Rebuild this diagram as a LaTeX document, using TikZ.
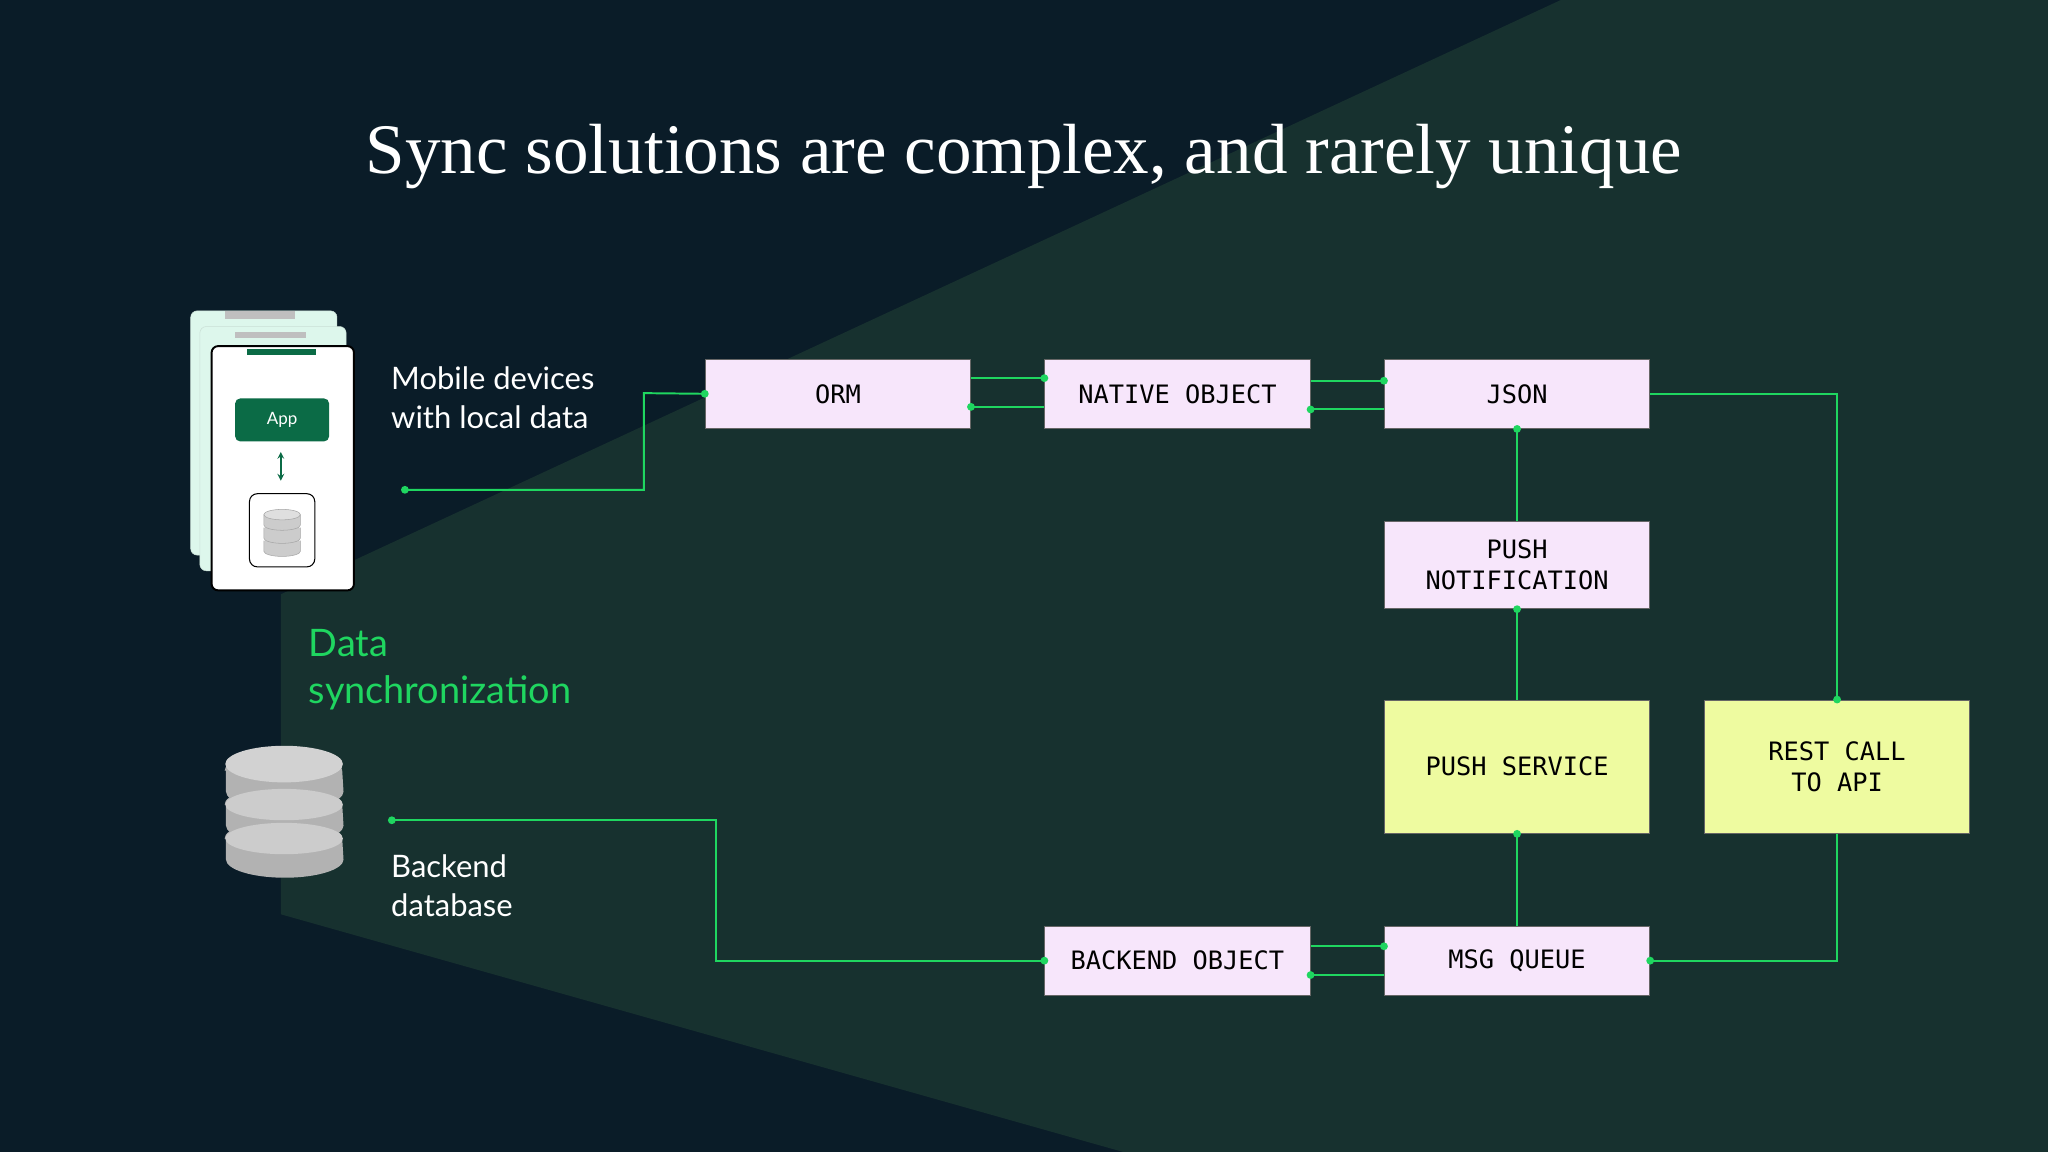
\documentclass[tikz,border=0pt]{standalone}
\usepackage{fontspec}
\setmainfont{Liberation Serif}
\newfontfamily\labelfont{Lato}
\newfontfamily\boxfont{DejaVu Sans Mono}
\usetikzlibrary{positioning,calc}
\definecolor{bgdark}{HTML}{0A1C28}
\definecolor{bglight}{HTML}{17312F}
\definecolor{syncgreen}{HTML}{1FD660}
\definecolor{boxpink}{HTML}{F7E6FB}
\definecolor{boxyellow}{HTML}{EEFBA0}
\definecolor{appgreen}{HTML}{0B6B46}
\definecolor{mint}{HTML}{DDF7EC}
\tikzset{
    stage/.style={draw=black!60, fill=boxpink, line width=0.8pt, minimum width=203pt,
        minimum height=53pt, font=\boxfont\fontsize{19.4}{24}\selectfont, align=center, text=black},
    service/.style={stage, fill=boxyellow, minimum height=102pt},
    link/.style={draw=syncgreen, line width=1.5pt},
    dot/.style={circle, fill=syncgreen, inner sep=0pt, minimum size=6pt},
    caption/.style={font=\labelfont\fontsize{23.7}{30}\selectfont, text=white, align=left, anchor=north west},
}
\begin{document}
\begin{tikzpicture}[x=1pt, y=-1pt]
\useasboundingbox (0,0) rectangle (1568,882);
\fill[bgdark] (0,0) rectangle (1568,882);
\fill[bglight] (215,455) -- (1195,0) -- (1568,0) -- (1568,882) -- (860,882) -- (215,700) -- cycle;

% title
\node[text=white, font=\fontsize{54.4}{60}\selectfont] (title) at (784,120) {Sync solutions are complex, and rarely unique};

% boxes
\node[stage] (orm) at (641.5,301.5) {ORM};
\node[stage] (native) at (901.5,301.5) {NATIVE OBJECT};
\node[stage] (json) at (1161.5,301.5) {JSON};
\node[stage, minimum height=67pt] (notify) at (1161.5,432.5) {PUSH\\NOTIFICATION};
\node[service] (push) at (1161.5,587) {PUSH SERVICE};
\node[service] (rest) at (1406.5,587) {REST CALL\\TO API};
\node[stage] (backend) at (901.5,735.5) {BACKEND OBJECT};
\node[stage] (queue) at (1161.5,735.5) {MSG QUEUE};

% mobile device icon
\draw[mint!80!gray, fill=mint, rounded corners=5pt] (146,238) rectangle (258,425);
\fill[gray!50] (172,238) rectangle (226,244);
\draw[mint!80!gray, fill=mint, rounded corners=5pt] (153,250) rectangle (265,437);
\fill[gray!50] (180,254) rectangle (234,259);
\draw[black, fill=white, line width=1.5pt, rounded corners=5pt] (162,265) rectangle (271,452);
\fill[appgreen] (189,267) rectangle (242,272);
\node[fill=appgreen, rounded corners=4pt, minimum width=72pt, minimum height=33pt,
    text=white, font=\labelfont\fontsize{13}{13}\selectfont] (app) at (216,321.5) {App};
\draw[appgreen, line width=1.3pt, <->, >=stealth] (215,346) -- (215,368);
\draw[black, rounded corners=6pt, line width=0.8pt] (191,378) rectangle (241,434);
\foreach \y in {414,404,394}
    \draw[gray!70, fill=gray!40] (202,\y) -- (202,\y+8) arc[start angle=180, end angle=360, x radius=14pt, y radius=4pt] -- (230,\y) ;
\draw[gray!70, fill=gray!25] (216,394) ellipse[x radius=14pt, y radius=4pt];

% database icon
\foreach \y in {642,616,590}
    \fill[gray!60] (173,\y) -- (173,\y+16) arc[start angle=180, end angle=360, x radius=45pt, y radius=14pt] -- (262,\y) arc[start angle=0, end angle=180, x radius=45pt, y radius=14pt];
\foreach \y in {642,616}
    \fill[gray!40] (217.5,\y) ellipse[x radius=45pt, y radius=12pt];
\fill[gray!35] (217.5,585) ellipse[x radius=45pt, y radius=14pt];

% captions
\node[caption] (mobiletxt) at (296,277) {Mobile devices\\with local data};
\node[caption, text=syncgreen, font=\labelfont\fontsize{29}{36}\selectfont] (synctxt) at (233,478) {Data\\synchronization};
\node[caption] (backtxt) at (296,651) {Backend\\database};

% connectors
\coordinate (mobileend) at (310,375);
\coordinate (dbend) at (300,628);
\draw[link] (mobileend) -| (493,301) -- (orm.west);
\node[dot] at (mobileend) {};
\node[dot] at (orm.west) {};
\draw[link] ([yshift=12pt]orm.east) -- ([yshift=12pt]native.west);
\draw[link] ([yshift=-10pt]orm.east) -- ([yshift=-10pt]native.west);
\node[dot] at ([yshift=12pt]native.west) {};
\node[dot] at ([yshift=-10pt]orm.east) {};
\draw[link] ([yshift=10pt]native.east) -- ([yshift=10pt]json.west);
\draw[link] ([yshift=-12pt]native.east) -- ([yshift=-12pt]json.west);
\node[dot] at ([yshift=10pt]json.west) {};
\node[dot] at ([yshift=-12pt]native.east) {};
\draw[link] (json.south) -- (notify.north);
\node[dot] at (json.south) {};
\draw[link] (notify.south) -- (push.north);
\node[dot] at (notify.south) {};
\draw[link] (push.south) -- (queue.north);
\node[dot] at (push.south) {};
\draw[link] (json.east) -| (rest.north);
\node[dot] at (rest.north) {};
\draw[link] (rest.south) |- (queue.east);
\node[dot] at (queue.east) {};
\draw[link] (dbend) -| (548,735.5) -- (backend.west);
\node[dot] at (dbend) {};
\node[dot] at (backend.west) {};
\draw[link] ([yshift=11pt]backend.east) -- ([yshift=11pt]queue.west);
\draw[link] ([yshift=-11pt]backend.east) -- ([yshift=-11pt]queue.west);
\node[dot] at ([yshift=11pt]queue.west) {};
\node[dot] at ([yshift=-11pt]backend.east) {};
\end{tikzpicture}
\end{document}
